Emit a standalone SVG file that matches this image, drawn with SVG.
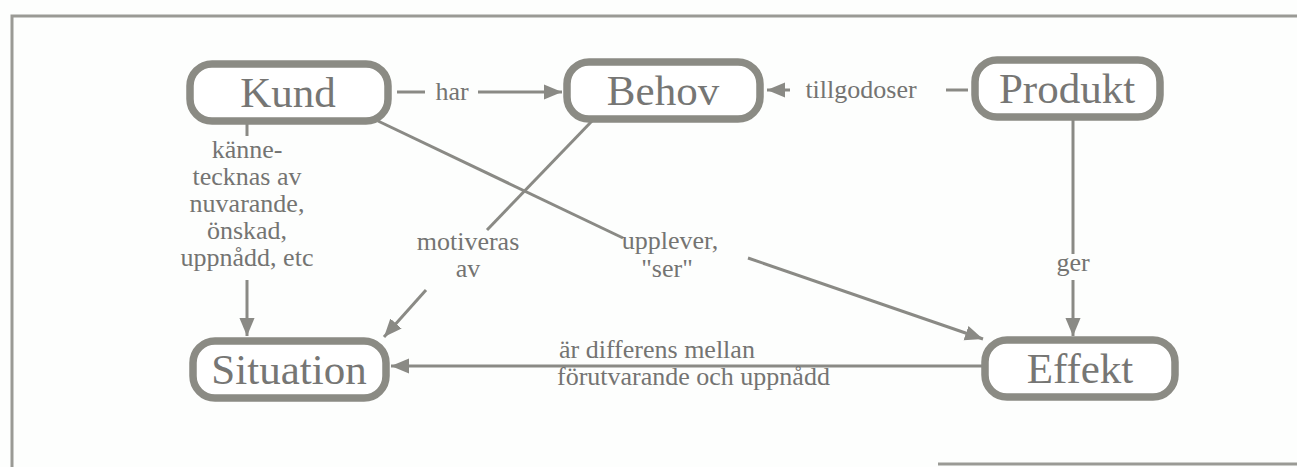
<svg xmlns="http://www.w3.org/2000/svg" width="1297" height="467" viewBox="0 0 1297 467">
<style>
.box{fill:#fff;stroke:#8b8b84;stroke-width:7.5}
.nt{font-family:"Liberation Serif",serif;font-size:43px;fill:#767674;text-anchor:middle}
.lt{font-family:"Liberation Serif",serif;font-size:26px;fill:#747472;text-anchor:middle}
.ls{font-family:"Liberation Serif",serif;font-size:26px;fill:#747472;text-anchor:start}
.ln{stroke:#8a8a85;stroke-width:3;fill:none}
.frame{stroke:#9a9a95;stroke-width:3;fill:none}
</style>
<defs>
<marker id="ah" viewBox="0 0 10 10" refX="10" refY="5" markerWidth="6" markerHeight="6" orient="auto" markerUnits="strokeWidth">
<path d="M0,0.8 L10,5 L0,9.2 z" fill="#8a8a85"/>
</marker>
</defs>
<rect x="0" y="0" width="1297" height="467" fill="#fdfefd"/>
<g id="frame">
<path class="frame" d="M12,467 L12,16 L1297,16"/>
<path class="frame" d="M938,464 L1297,464"/>
</g>
<g id="connectors">
<path class="ln" d="M397,92 L425,92"/>
<text class="lt" x="452" y="100">har</text>
<path class="ln" d="M478,92 L562,92" marker-end="url(#ah)"/>
<path class="ln" d="M968,90 L946,90"/>
<text class="lt" x="861" y="98">tillgodoser</text>
<path class="ln" d="M790,90 L767,90" marker-end="url(#ah)"/>
<path class="ln" d="M247,123 L247,136"/>
<text class="lt" x="247" y="158">känne-</text>
<text class="lt" x="247" y="185">tecknas av</text>
<text class="lt" x="247" y="212">nuvarande,</text>
<text class="lt" x="247" y="239">önskad,</text>
<text class="lt" x="247" y="266">uppnådd, etc</text>
<path class="ln" d="M247,280 L247,336" marker-end="url(#ah)"/>
<path class="ln" d="M592,121 L487,230"/>
<text class="lt" x="468" y="250">motiveras</text>
<text class="lt" x="468" y="277">av</text>
<path class="ln" d="M426,290 L384,337" marker-end="url(#ah)"/>
<path class="ln" d="M378,121 L623,238"/>
<text class="lt" x="670" y="249">upplever,</text>
<text class="lt" x="667" y="277">"ser"</text>
<path class="ln" d="M748,258 L983,339" marker-end="url(#ah)"/>
<path class="ln" d="M1073,118 L1073,254"/>
<text class="lt" x="1073" y="271">ger</text>
<path class="ln" d="M1073,280 L1073,336" marker-end="url(#ah)"/>
<path class="ln" d="M982,366 L391,366" marker-end="url(#ah)"/>
<text class="ls" x="559" y="358">är differens mellan</text>
<text class="ls" x="557" y="385">förutvarande och uppnådd</text>
</g>
<g id="kund"><rect class="box" x="190" y="64" width="198" height="57" rx="22"/><text class="nt" x="288" y="107">Kund</text></g>
<g id="behov"><rect class="box" x="567" y="62" width="193" height="57" rx="22"/><text class="nt" x="663" y="105">Behov</text></g>
<g id="produkt"><rect class="box" x="975" y="60" width="185" height="57" rx="22"/><text class="nt" x="1067" y="103">Produkt</text></g>
<g id="situation"><rect class="box" x="193" y="341" width="193" height="57" rx="22"/><text class="nt" x="289" y="384">Situation</text></g>
<g id="effekt"><rect class="box" x="985" y="340" width="190" height="57" rx="22"/><text class="nt" x="1080" y="383">Effekt</text></g>
</svg>
